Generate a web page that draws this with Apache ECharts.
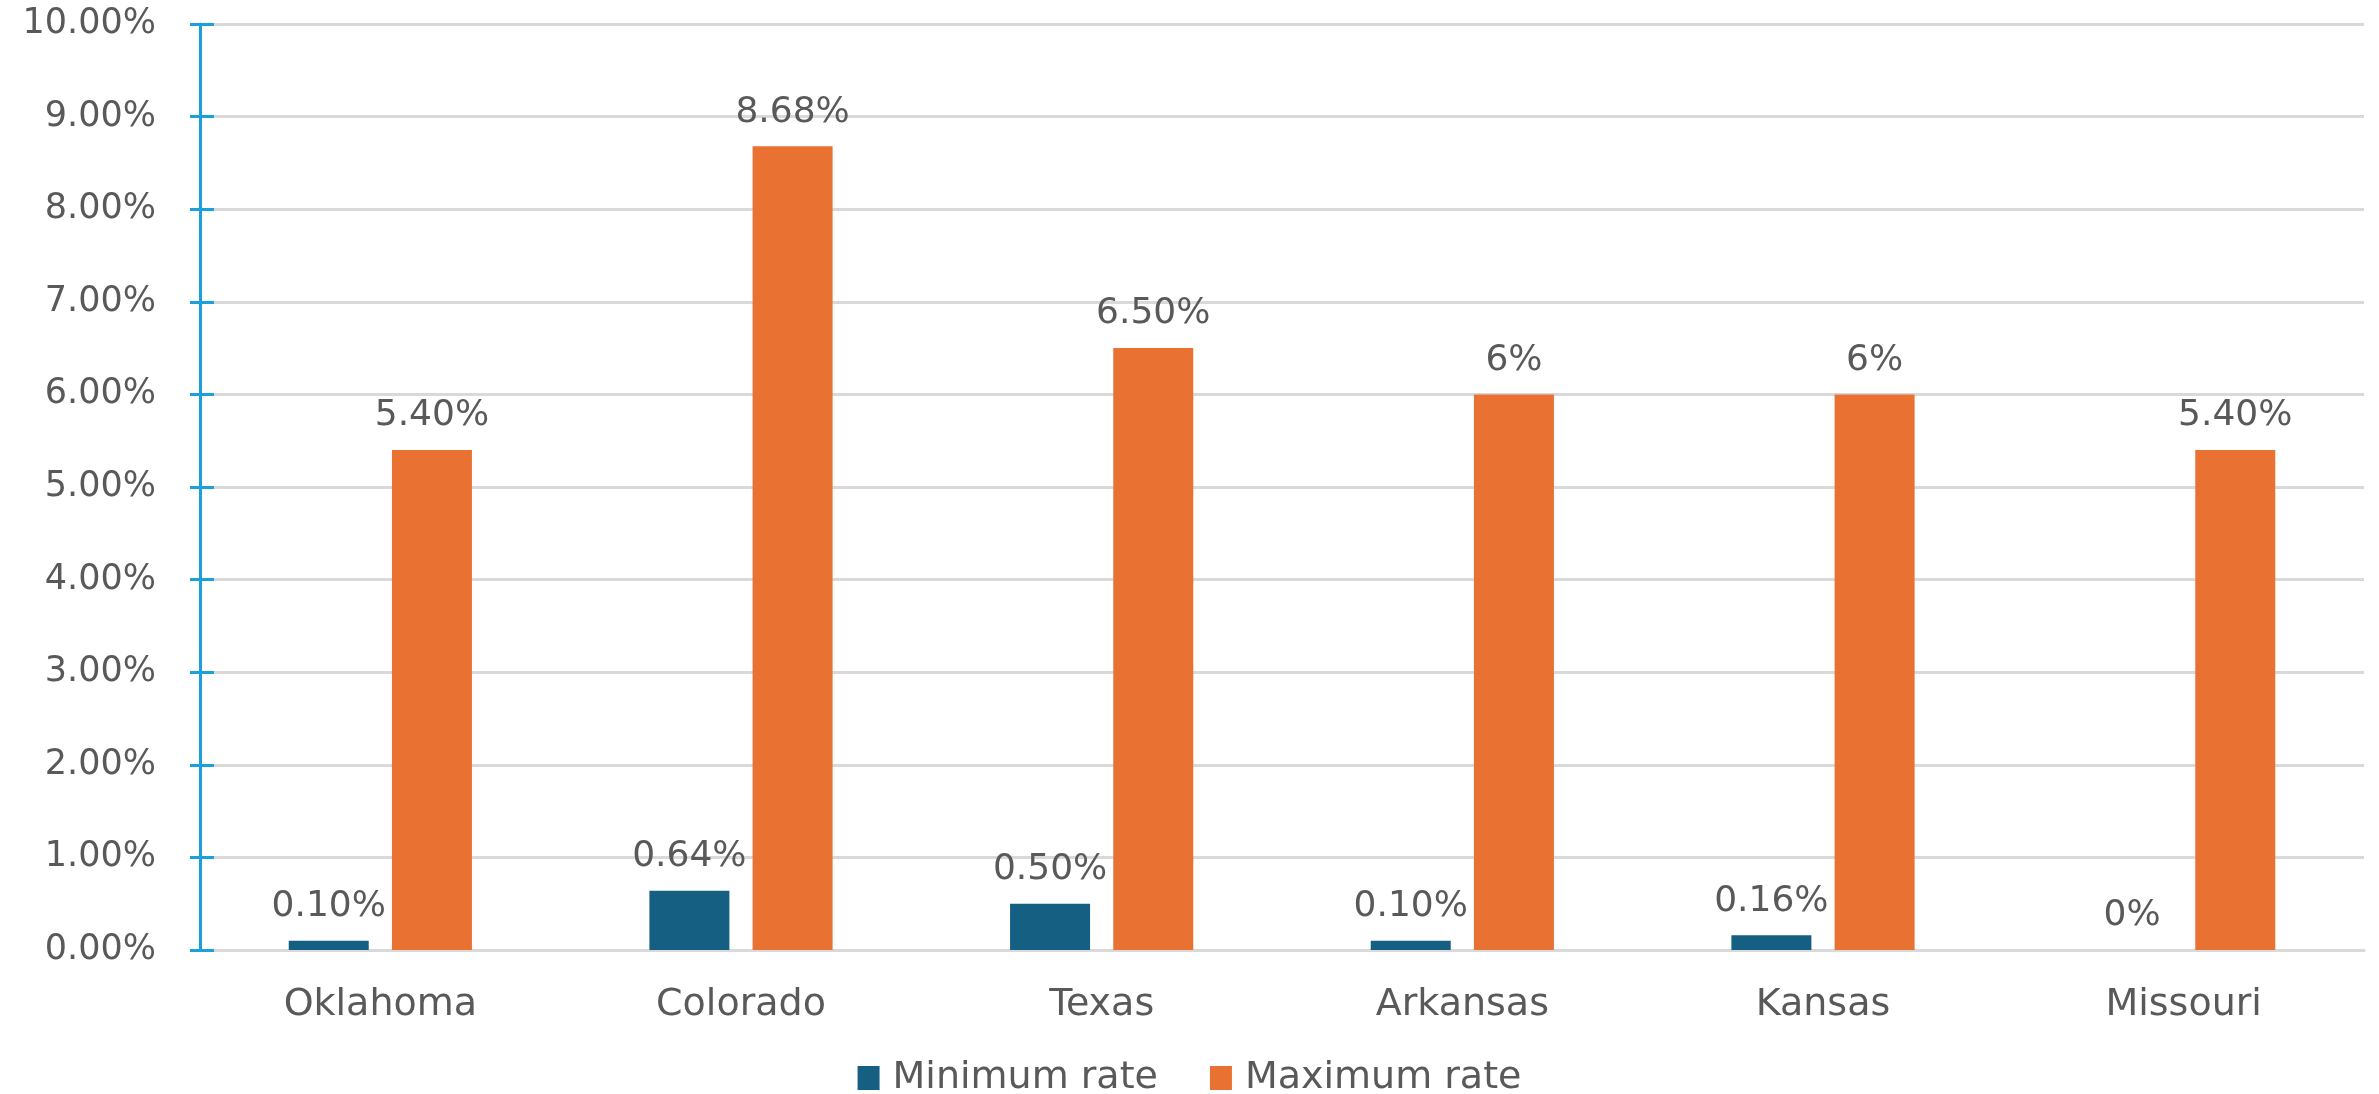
<!DOCTYPE html>
<html>
<head>
<meta charset="utf-8">
<script src="https://cdn.jsdelivr.net/npm/echarts@6/dist/echarts.min.js"></script>
<style>
  html, body { margin: 0; padding: 0; background: #fff; }
  #chart { width: 2379px; height: 1094px; }
</style>
</head>
<body>
<div id="chart"></div>
<script>
// Severance tax rates by state (percent)
const states = ['Oklahoma', 'Colorado', 'Texas', 'Arkansas', 'Kansas', 'Missouri'];
const minimumRate = [0.10, 0.64, 0.50, 0.10, 0.16, 0];
const maximumRate = [5.40, 8.68, 6.50, 6, 6, 5.40];
const seriesNames = ['Minimum rate', 'Maximum rate'];

const FONT = 'DejaVu Sans';
const TEXT = '#595959';
const GRID = '#d9d9d9';
const AXIS_BLUE = '#1aa0da';

// whole numbers are shown without decimals, others with two
function pct(v) {
  return Number.isInteger(v) ? v + '%' : v.toFixed(2) + '%';
}

const chart = echarts.init(document.getElementById('chart'), null, { renderer: 'canvas' });

const labelStyle = {
  show: true,
  position: 'top',
  distance: 16,
  color: TEXT,
  fontFamily: FONT,
  fontSize: 36,
  formatter: p => pct(p.value)
};

chart.setOption({
  animation: false,
  backgroundColor: '#ffffff',
  grid: { left: 200, right: 15, top: 24, bottom: 144 },
  legend: {
    bottom: -8,
    left: 'center',
    itemWidth: 22,
    itemHeight: 24,
    itemGap: 52,
    icon: 'rect',
    textStyle: { color: TEXT, fontFamily: FONT, fontSize: 38, padding: [0, 0, 0, 8] },
    data: seriesNames
  },
  xAxis: {
    type: 'category',
    data: states,
    axisLine: { show: true, lineStyle: { color: GRID, width: 3 } },
    axisTick: { show: false },
    axisLabel: { color: TEXT, fontFamily: FONT, fontSize: 38, margin: 36 }
  },
  yAxis: [
    {
      type: 'value',
      min: 0,
      max: 10,
      interval: 1,
      axisLine: { show: true, lineStyle: { color: AXIS_BLUE, width: 3 } },
      axisTick: { show: true, length: 10, lineStyle: { color: AXIS_BLUE, width: 3 } },
      axisLabel: {
        color: TEXT, fontFamily: FONT, fontSize: 35, margin: 44,
        formatter: v => v.toFixed(2) + '%'
      },
      splitLine: { show: true, lineStyle: { color: GRID, width: 3 } }
    },
    {
      // inner half of the tick marks on the value axis
      type: 'value',
      position: 'left',
      min: 0,
      max: 10,
      interval: 1,
      axisLine: { show: false },
      axisTick: { show: true, inside: true, length: 14, lineStyle: { color: AXIS_BLUE, width: 3 } },
      axisLabel: { show: false },
      splitLine: { show: false }
    }
  ],
  series: [
    {
      name: seriesNames[0],
      type: 'bar',
      data: minimumRate,
      barWidth: 80,
      barGap: '29%',
      itemStyle: { color: '#156082' },
      label: labelStyle
    },
    {
      name: seriesNames[1],
      type: 'bar',
      data: maximumRate,
      barWidth: 80,
      barGap: '29%',
      itemStyle: { color: '#e97132' },
      label: labelStyle
    }
  ]
});
</script>
</body>
</html>
